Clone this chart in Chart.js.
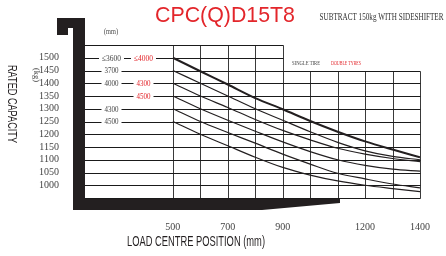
<!DOCTYPE html>
<html lang="en">
<head>
    <meta charset="UTF-8">
    <title>CPC(Q)D15T8 load chart</title>
    <script src="https://cdn.jsdelivr.net/npm/chart.js"></script>
    <style>
        body { margin: 0; background: #fff; }
        .wrap { width: 446px; height: 256px; position: relative; }
    </style>
</head>
<body>
<div class="wrap"><canvas id="loadChart"></canvas></div>
<script>
    // load centre positions (mm)
    const centres = [500, 600, 700, 800, 900, 1000, 1100, 1200, 1300, 1400];

    // rated capacity curves (kg)
    const cap1500 = [1500, 1447, 1395, 1342, 1298, 1252, 1210, 1172, 1140, 1110];
    const cap1450 = [1450, 1400, 1350, 1300, 1255, 1210, 1168, 1135, 1113, 1100];
    const cap1400 = [1400, 1350, 1305, 1258, 1215, 1178, 1145, 1122, 1105, 1093];
    const cap1350 = [1350, 1300, 1255, 1212, 1170, 1132, 1100, 1078, 1063, 1055];
    const cap1300 = [1300, 1250, 1207, 1165, 1122, 1083, 1047, 1025, 1005, 990];
    const cap1250 = [1250, 1200, 1155, 1110, 1070, 1040, 1017, 1000, 987, 975];

    const xTickLabels = [500, 700, 900, 1200, 1400];
    const yTickLabels = [1000, 1050, 1100, 1150, 1200, 1250, 1300, 1350, 1400, 1450, 1500];
    const xGridValues = [500, 600, 700, 800, 900, 1000, 1100, 1200, 1300, 1400];
    const yGridValues = [950, 1000, 1050, 1100, 1150, 1200, 1250, 1300, 1350, 1400, 1450, 1500, 1550];

    // mast heights written on the capacity lines
    const singleMasts = ['≤3600', '3700', '4000', '4300', '4500'];
    const singleCaps = [1500, 1450, 1400, 1300, 1250];
    const doubleMasts = ['≤4000', '4300', '4500'];
    const doubleCaps = [1500, 1400, 1350];

    const INK = '#231f20';
    const RED = '#e3262b';
    const GREY = '#444';

    function fitText(ctx, text, cx, cy, w, font, color, rot) {
        ctx.save();
        ctx.translate(cx, cy);
        if (rot) ctx.rotate(rot);
        ctx.font = font;
        ctx.fillStyle = color;
        ctx.textAlign = 'center';
        ctx.textBaseline = 'middle';
        const m = ctx.measureText(text).width;
        ctx.scale(w / m, 1);
        ctx.fillText(text, 0, 0);
        ctx.restore();
    }

    const decor = {
        id: 'decor',
        beforeDatasetsDraw(chart) {
            const ctx = chart.ctx;
            const xs = chart.scales.x, ys = chart.scales.y;
            ctx.save();
            ctx.lineWidth = 1;
            // vertical grid, stepped top
            ctx.strokeStyle = '#3a3a3a';
            xGridValues.forEach(v => {
                const x = Math.round(xs.getPixelForValue(v)) + 0.5;
                const top = ys.getPixelForValue(v <= 900 ? 1550 : 1450);
                ctx.beginPath();
                ctx.moveTo(x, Math.round(top) + 0.5);
                ctx.lineTo(x, Math.round(ys.getPixelForValue(950)) + 0.5);
                ctx.stroke();
            });
            // horizontal grid
            ctx.strokeStyle = '#1a1a1a';
            yGridValues.forEach(v => {
                const y = Math.round(ys.getPixelForValue(v)) + 0.5;
                const right = xs.getPixelForValue(v > 1450 ? 900 : 1400);
                ctx.beginPath();
                ctx.moveTo(xs.left, y);
                ctx.lineTo(Math.round(right) + 0.5, y);
                ctx.stroke();
            });
            // mast labels sitting on the lines
            const put = (txt, v, cx, w, color) => {
                const y = ys.getPixelForValue(v);
                ctx.fillStyle = '#fff';
                ctx.fillRect(cx - w / 2 - 3, y - 4, w + 6, 8);
                fitText(ctx, txt, cx, y + 0.5, w, '9px "Liberation Serif", serif', color);
            };
            singleMasts.forEach((t, i) => put(t, singleCaps[i], 111.5, t.length > 4 ? 19 : 14, GREY));
            doubleMasts.forEach((t, i) => put(t, doubleCaps[i], 143.5, t.length > 4 ? 19 : 14, RED));
            ctx.restore();
        },
        afterDatasetsDraw(chart) {
            const ctx = chart.ctx;
            ctx.save();
            ctx.fillStyle = INK;
            // thick frame
            ctx.fillRect(73, 18, 12, 192);
            ctx.fillRect(57, 18, 27, 10);
            ctx.fillRect(57, 28, 11, 7);
            ctx.beginPath();
            ctx.moveTo(73, 199);
            ctx.lineTo(340, 199);
            ctx.lineTo(340, 203);
            ctx.lineTo(262, 210);
            ctx.lineTo(73, 210);
            ctx.closePath();
            ctx.fill();

            // texts
            fitText(ctx, 'CPC(Q)D15T8', 225, 16, 140, '22px "Liberation Sans", Arial, sans-serif', RED);
            fitText(ctx, 'SUBTRACT 150kg WITH SIDESHIFTER', 381.5, 17.5, 124, '11px "Liberation Serif", serif', '#333');
            fitText(ctx, '(mm)', 111, 31.5, 14, '9px "Liberation Serif", serif', GREY);
            fitText(ctx, 'SINGLE TIRE', 306, 63, 28, '7px "Liberation Serif", serif', GREY);
            fitText(ctx, 'DOUBLE TYRES', 346, 63, 30, '7px "Liberation Serif", serif', RED);
            fitText(ctx, 'RATED CAPACITY', 12, 104, 78, '13px "Liberation Sans", sans-serif', INK, Math.PI / 2);
            fitText(ctx, '(kg)', 36, 75, 14, '9px "Liberation Serif", serif', GREY, Math.PI / 2);
            fitText(ctx, 'LOAD CENTRE POSITION (mm)', 196, 242, 138, '15px "Liberation Sans", sans-serif', INK);
            ctx.restore();
        }
    };

    const curve = (data, w) => ({
        data: centres.map((x, i) => ({ x, y: data[i] })),
        borderColor: INK,
        borderWidth: w,
        pointRadius: 0,
        fill: false,
        cubicInterpolationMode: 'monotone'
    });

    new Chart(document.getElementById('loadChart'), {
        type: 'line',
        data: {
            datasets: [
                curve(cap1500, 2),
                curve(cap1450, 1.2),
                curve(cap1400, 1.2),
                curve(cap1350, 1.2),
                curve(cap1300, 1.2),
                curve(cap1250, 1.2)
            ]
        },
        options: {
            responsive: true,
            maintainAspectRatio: false,
            animation: false,
            layout: { padding: { top: 45, right: 26, left: 0, bottom: 0 } },
            plugins: { legend: { display: false }, tooltip: { enabled: false } },
            scales: {
                x: {
                    type: 'linear',
                    min: 180,
                    max: 1400,
                    grid: { display: false },
                    border: { display: false },
                    afterBuildTicks: s => { s.ticks = xTickLabels.map(v => ({ value: v })); },
                    afterFit: s => { s.height = 58; },
                    ticks: {
                        padding: 15,
                        maxRotation: 0,
                        color: GREY,
                        callback: v => String(v),
                        font: { family: '"Liberation Serif", serif', size: 10 }
                    }
                },
                y: {
                    min: 950,
                    max: 1550,
                    grid: { display: false },
                    border: { display: false },
                    afterBuildTicks: s => { s.ticks = yTickLabels.map(v => ({ value: v })); },
                    afterFit: s => { s.width = 85; },
                    ticks: {
                        padding: 18,
                        color: GREY,
                        callback: v => String(v),
                        font: { family: '"Liberation Serif", serif', size: 10 }
                    }
                }
            }
        },
        plugins: [decor]
    });
</script>
</body>
</html>
